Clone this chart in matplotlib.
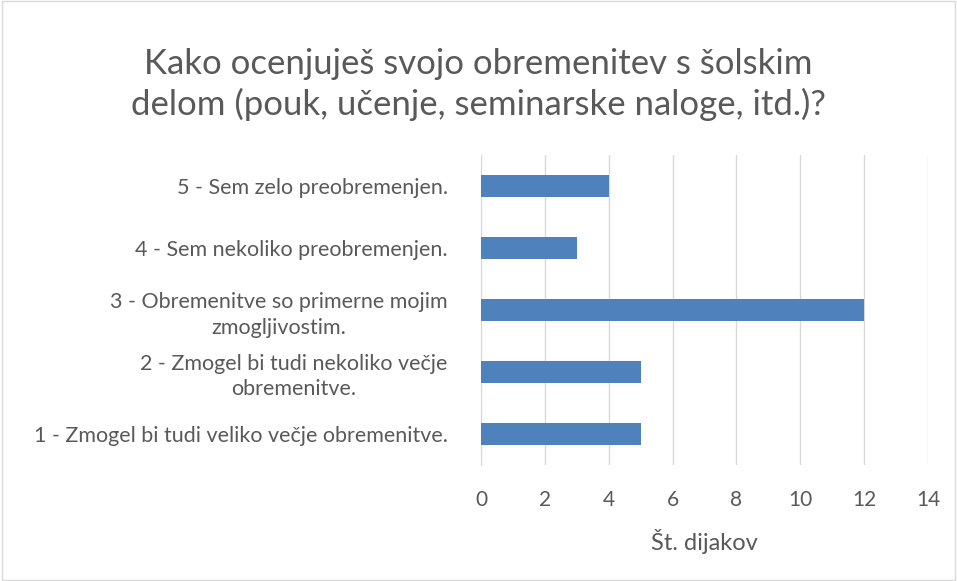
import matplotlib.pyplot as plt
from matplotlib.patches import Rectangle

# ------------------------------------------
# Data
# ------------------------------------------

categories = [
    "1 - Zmogel bi tudi veliko večje obremenitve.",
    "2 - Zmogel bi tudi nekoliko večje\nobremenitve.",
    "3 - Obremenitve so primerne mojim\nzmogljivostim.",
    "4 - Sem nekoliko preobremenjen.",
    "5 - Sem zelo preobremenjen.",
]
counts = [5, 5, 12, 3, 4]
x_ticks = [0, 2, 4, 6, 8, 10, 12, 14]

title = "Kako ocenjuješ svojo obremenitev s šolskim\ndelom (pouk, učenje, seminarske naloge, itd.)?"

# ------------------------------------------
# Style
# ------------------------------------------

plt.rcParams["font.family"] = ["Lato", "DejaVu Sans"]
text_color = "#595959"
bar_color = "#4F81BD"
grid_color = "#D9D9D9"

fig = plt.figure(figsize=(9.57, 5.81), dpi=100)
ax = fig.add_axes([0.5026, 0.2, 0.4671, 0.533])

ax.barh(range(len(categories)), counts, height=0.355, color=bar_color, zorder=3)

ax.set_xlim(0, 14)
ax.set_ylim(-0.5, len(categories) - 0.5)
ax.set_xticks(x_ticks)
ax.set_yticks(range(len(categories)))
ax.set_yticklabels(categories, ha="right", multialignment="center",
                   linespacing=1.35)

ax.grid(axis="x", color=grid_color, linewidth=1, zorder=0)
for side in ["top", "right", "bottom"]:
    ax.spines[side].set_visible(False)
ax.spines["left"].set_color(grid_color)

ax.tick_params(axis="both", length=0, colors=text_color)
ax.tick_params(axis="y", labelsize=15.5, pad=24)
ax.tick_params(axis="x", labelsize=15, pad=18)

ax.set_xlabel("Št. dijakov", color=text_color, fontsize=17, labelpad=14)

fig.text(0.5, 0.855, title, ha="center", va="center", fontsize=25,
         color=text_color, linespacing=1.3)

# chart border
fig.patches.append(Rectangle((0.002, 0.002), 0.996, 0.996, transform=fig.transFigure,
                             fill=False, edgecolor=grid_color, linewidth=1))

fig.savefig("out.png", dpi=100)
